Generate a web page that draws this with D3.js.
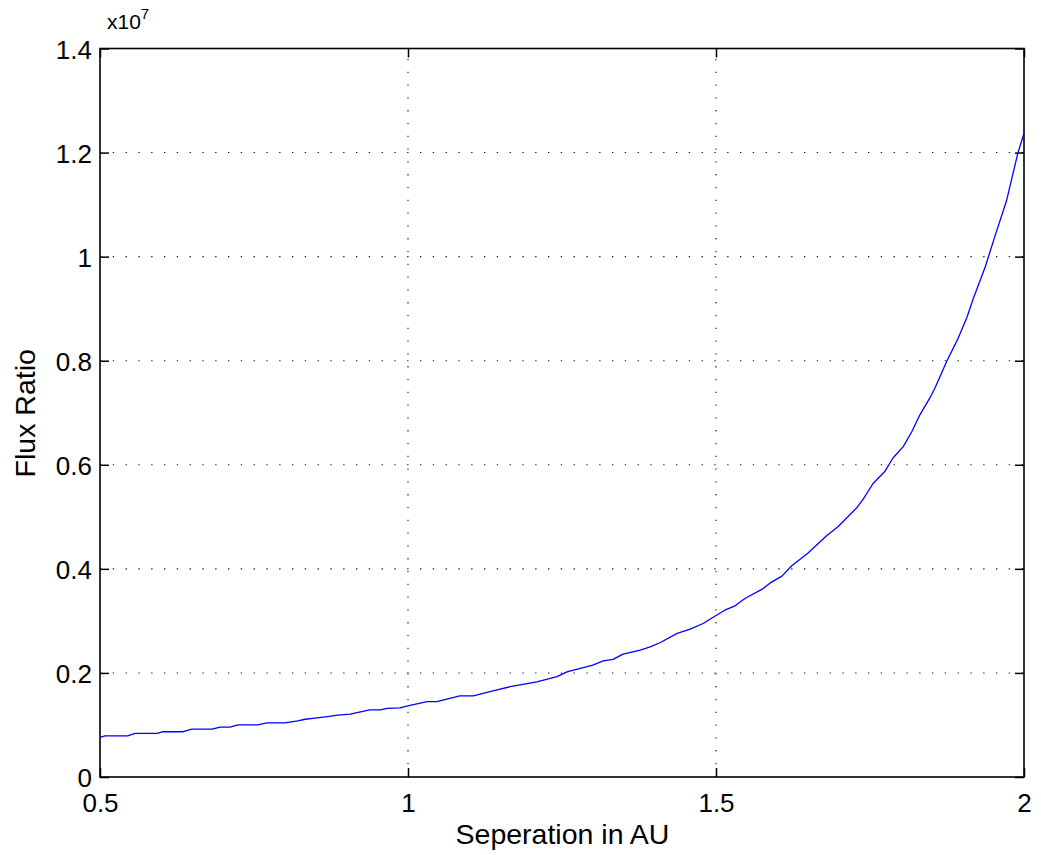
<!DOCTYPE html>
<html>
<head>
<meta charset="utf-8">
<script src="https://cdn.jsdelivr.net/npm/d3@7"></script>
<style>
  html, body { margin: 0; padding: 0; background: #fff; }
  svg { display: block; }
  text { font-family: "Liberation Sans", Arial, Helvetica, sans-serif; fill: #000; }
</style>
</head>
<body>
<script>
// Separation in AU
const separation = [0.500, 0.508, 0.545, 0.557, 0.593, 0.602, 0.635, 0.649, 0.682, 0.695,
  0.711, 0.724, 0.756, 0.771, 0.800, 0.821, 0.833, 0.849, 0.869, 0.886,
  0.906, 0.938, 0.955, 0.966, 0.987, 0.998, 1.031, 1.047, 1.084, 1.106,
  1.133, 1.166, 1.209, 1.242, 1.258, 1.300, 1.317, 1.333, 1.349, 1.377,
  1.393, 1.409, 1.437, 1.458, 1.479, 1.498, 1.515, 1.531, 1.547, 1.575,
  1.588, 1.607, 1.623, 1.649, 1.680, 1.698, 1.729, 1.739, 1.755, 1.774,
  1.787, 1.804, 1.818, 1.831, 1.847, 1.856, 1.875, 1.893, 1.907, 1.917,
  1.937, 1.953, 1.972, 1.990, 2.000];
// Flux ratio (x1e7)
const fluxRatio = [0.076, 0.079, 0.079, 0.084, 0.084, 0.087, 0.087, 0.092, 0.092, 0.096,
  0.096, 0.100, 0.100, 0.104, 0.104, 0.108, 0.111, 0.113, 0.116, 0.119,
  0.121, 0.129, 0.129, 0.132, 0.133, 0.136, 0.145, 0.145, 0.156, 0.156,
  0.164, 0.1735, 0.183, 0.193, 0.202, 0.215, 0.223, 0.226, 0.236, 0.244,
  0.250, 0.258, 0.276, 0.284, 0.295, 0.309, 0.321, 0.329, 0.343, 0.361,
  0.373, 0.386, 0.406, 0.430, 0.464, 0.481, 0.518, 0.534, 0.564, 0.587,
  0.6125, 0.635, 0.664, 0.696, 0.728, 0.749, 0.800, 0.843, 0.882, 0.917,
  0.980, 1.040, 1.109, 1.199, 1.237];

const xTicks = [0.5, 1, 1.5, 2];
const xTickLabels = ["0.5", "1", "1.5", "2"];
const yTicks = [0, 0.2, 0.4, 0.6, 0.8, 1, 1.2, 1.4];
const yTickLabels = ["0", "0.2", "0.4", "0.6", "0.8", "1", "1.2", "1.4"];
const xLabel = "Seperation in AU";
const yLabel = "Flux Ratio";

const W = 1041, H = 855;
const m = { left: 100, top: 48.5, right: 17, bottom: 78 };
const iw = W - m.left - m.right, ih = H - m.top - m.bottom;

const svg = d3.select("body").append("svg").attr("width", W).attr("height", H);
const g = svg.append("g").attr("transform", `translate(${m.left},${m.top})`);

const x = d3.scaleLinear().domain([0.5, 2]).range([0, iw]);
const y = d3.scaleLinear().domain([0, 1.4]).range([ih, 0]);

// grid
const dash = "1.3,11.5";
g.append("g").selectAll("line").data(xTicks.slice(1, -1)).join("line")
  .attr("x1", d => x(d)).attr("x2", d => x(d)).attr("y1", ih).attr("y2", 0)
  .attr("stroke", "#111").attr("stroke-width", 1.1).attr("stroke-dasharray", dash);
g.append("g").selectAll("line").data(yTicks.slice(1, -1)).join("line")
  .attr("x1", 0).attr("x2", iw).attr("y1", d => y(d)).attr("y2", d => y(d))
  .attr("stroke", "#111").attr("stroke-width", 1.1).attr("stroke-dasharray", dash);

// axes (inward ticks on all sides)
const tk = 9;
const fs = 26;
const xb = g.append("g").attr("transform", `translate(0,${ih})`)
  .call(d3.axisBottom(x).tickValues(xTicks).tickFormat((d, i) => xTickLabels[i]).tickSize(-tk).tickPadding(16));
const xt = g.append("g")
  .call(d3.axisTop(x).tickValues(xTicks).tickFormat("").tickSize(-tk));
const yl = g.append("g")
  .call(d3.axisLeft(y).tickValues(yTicks).tickFormat((d, i) => yTickLabels[i]).tickSize(-tk).tickPadding(8));
const yr = g.append("g").attr("transform", `translate(${iw},0)`)
  .call(d3.axisRight(y).tickValues(yTicks).tickFormat("").tickSize(-tk));
[xb, xt, yl, yr].forEach(a => {
  a.select(".domain").remove();
  a.selectAll(".tick line").attr("stroke", "#000").attr("stroke-width", 1.5);
  a.selectAll("text").attr("font-size", fs).attr("font-family", '"Liberation Sans", Arial, sans-serif').attr("fill", "#000");
});
xb.selectAll("text").attr("dy", "0.74em");
yl.selectAll("text").attr("dy", "0.38em");

// box
g.append("rect").attr("x", 0).attr("y", 0).attr("width", iw).attr("height", ih)
  .attr("fill", "none").attr("stroke", "#000").attr("stroke-width", 1.6);

// curve
const pts = separation.map((s, i) => [s, fluxRatio[i]]);
g.append("path").datum(pts)
  .attr("fill", "none").attr("stroke", "#0000ff").attr("stroke-width", 1.3)
  .attr("stroke-linejoin", "round")
  .attr("d", d3.line().x(d => x(d[0])).y(d => y(d[1])));

// labels
const lfs = 28.5;
svg.append("text").attr("x", m.left + iw / 2 + 0.5).attr("y", 844)
  .attr("text-anchor", "middle").attr("font-size", lfs).text(xLabel);
svg.append("text").attr("transform", `translate(35,${m.top + ih / 2 + 0.5}) rotate(-90)`)
  .attr("text-anchor", "middle").attr("font-size", lfs).text(yLabel);

// exponent
const ex = svg.append("text").attr("x", 107).attr("y", 29).attr("font-size", 21);
ex.append("tspan").text("x10");
ex.append("tspan").attr("dy", -10).attr("font-size", 15).text("7");
</script>
</body>
</html>
